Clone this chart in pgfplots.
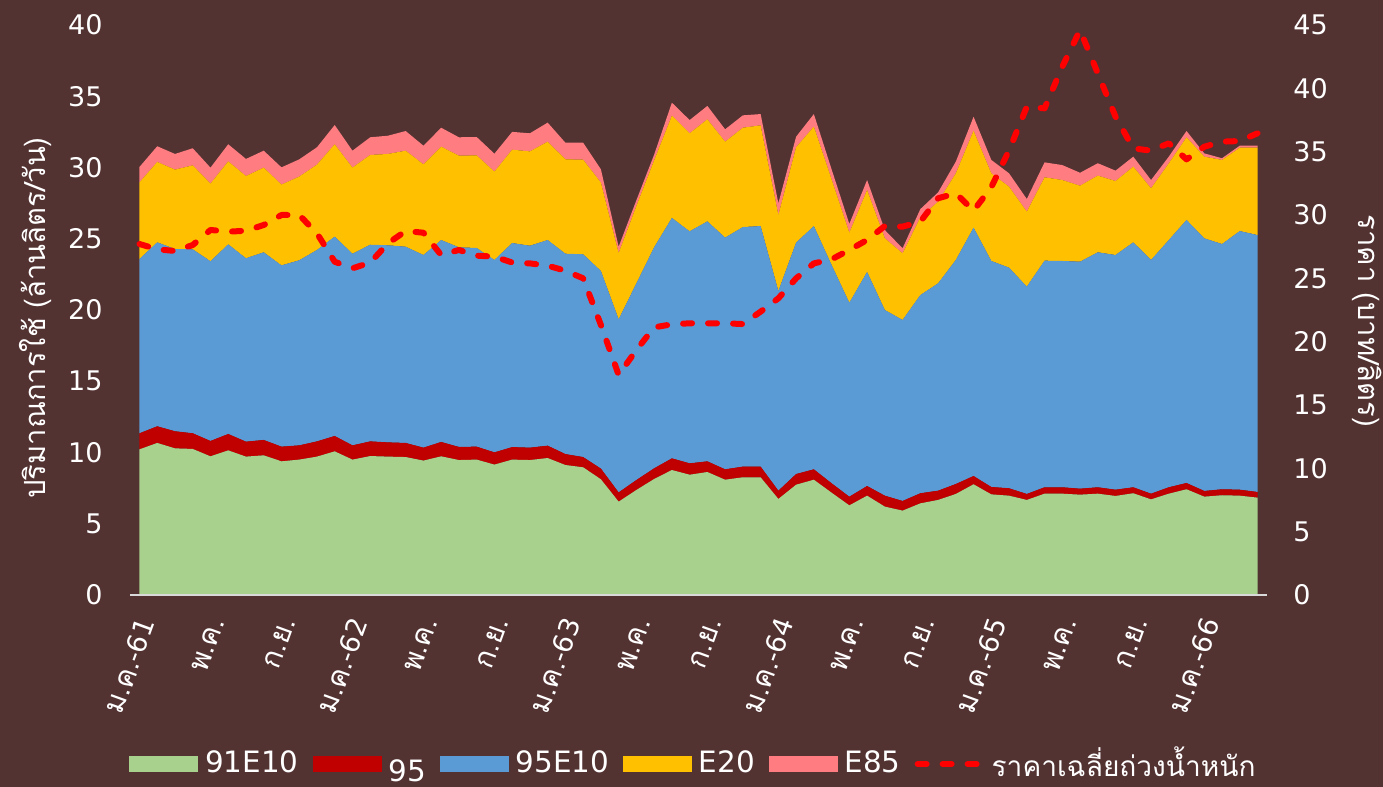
\documentclass[border=0pt]{standalone}
\usepackage{fontspec}
\setmainfont{DejaVu Sans}
\newfontfamily\thai{Loma}[Script=Thai, Scale=1.08]
\usepackage{pgfplots}
\pgfplotsset{compat=1.18}
\usepackage{pgfplotstable}
\definecolor{bg}{RGB}{83,50,50}
\definecolor{cG}{RGB}{169,209,142}
\definecolor{cR}{RGB}{192,0,0}
\definecolor{cB}{RGB}{91,155,213}
\definecolor{cY}{RGB}{255,192,0}
\definecolor{cP}{RGB}{255,124,128}
\definecolor{axgray}{RGB}{217,217,217}
\newcommand{\MJan}{{\thai ม.ค.}}
\newcommand{\MMay}{{\thai พ.ค.}}
\newcommand{\MSep}{{\thai ก.ย.}}
\pgfplotstableread{
x a b c d e p
0 10.22 1.13 12.23 5.38 1.08 27.71
1 10.67 1.17 12.91 5.64 1.10 27.29
2 10.29 1.20 12.79 5.57 1.10 27.16
3 10.25 1.10 12.91 5.89 1.20 27.63
4 9.73 1.08 12.61 5.45 1.12 28.82
5 10.15 1.15 13.31 5.82 1.20 28.68
6 9.71 1.05 12.87 5.77 1.20 28.76
7 9.80 1.08 13.17 5.94 1.19 29.21
8 9.38 1.03 12.72 5.67 1.21 30.00
9 9.50 1.00 12.99 5.87 1.21 30.00
10 9.71 1.07 13.43 5.99 1.22 28.55
11 10.08 1.08 13.99 6.48 1.35 26.31
12 9.50 1.00 13.45 6.04 1.19 25.79
13 9.75 1.03 13.80 6.30 1.24 26.24
14 9.71 1.00 13.83 6.41 1.28 27.76
15 9.68 0.99 13.77 6.74 1.38 28.74
16 9.43 0.91 13.52 6.36 1.31 28.60
17 9.73 1.01 14.17 6.55 1.33 26.84
18 9.47 0.92 14.01 6.43 1.29 27.24
19 9.50 0.91 13.94 6.50 1.29 26.79
20 9.15 0.86 13.50 6.20 1.26 26.71
21 9.50 0.88 14.32 6.55 1.25 26.25
22 9.47 0.87 14.17 6.62 1.27 26.18
23 9.61 0.87 14.43 6.90 1.34 26.00
24 9.12 0.77 14.06 6.62 1.17 25.60
25 8.96 0.72 14.23 6.64 1.19 25.00
26 8.12 0.75 13.87 6.20 0.93 21.32
27 6.55 0.65 12.15 4.65 0.44 17.37
28 7.37 0.70 13.80 5.43 0.40 19.34
29 8.14 0.75 15.51 6.10 0.40 21.13
30 8.77 0.82 16.87 7.18 0.91 21.37
31 8.44 0.80 16.28 6.88 0.93 21.45
32 8.63 0.75 16.84 7.16 0.94 21.45
33 8.09 0.73 16.26 6.73 0.87 21.45
34 8.26 0.75 16.81 6.97 0.87 21.39
35 8.26 0.75 16.88 7.07 0.79 22.37
36 6.74 0.58 14.01 5.34 0.82 23.42
37 7.74 0.75 16.24 6.69 0.74 25.00
38 8.09 0.73 17.07 6.98 0.88 26.18
39 7.18 0.66 15.32 6.01 0.70 26.50
40 6.29 0.61 13.61 4.92 0.61 27.24
41 6.97 0.68 15.02 5.75 0.70 28.03
42 6.20 0.77 13.03 5.03 0.58 29.13
43 5.92 0.68 12.70 4.68 0.35 29.08
44 6.43 0.71 13.91 5.45 0.58 29.47
45 6.67 0.65 14.55 5.73 0.65 31.32
46 7.09 0.70 15.72 6.08 0.82 31.71
47 7.77 0.58 17.43 6.80 0.98 30.34
48 7.06 0.52 15.86 6.15 0.94 32.20
49 6.97 0.52 15.48 5.68 0.94 35.10
50 6.67 0.42 14.55 5.26 0.89 38.55
51 7.11 0.45 15.90 5.85 1.05 38.42
52 7.11 0.45 15.88 5.68 1.05 41.71
53 7.04 0.42 15.93 5.33 0.91 44.60
54 7.11 0.45 16.49 5.38 0.87 41.18
55 6.95 0.44 16.47 5.19 0.73 37.76
56 7.14 0.42 17.19 5.31 0.70 35.26
57 6.71 0.40 16.40 5.03 0.58 35.08
58 7.11 0.45 17.35 5.38 0.47 35.66
59 7.42 0.44 18.46 5.80 0.44 34.39
60 6.90 0.40 17.73 5.73 0.23 35.39
61 7.00 0.42 17.21 5.90 0.12 35.79
62 6.97 0.42 18.15 5.85 0.14 35.84
63 6.83 0.40 18.03 6.13 0.14 36.45
}\data
\newcommand{\legrect}[1]{\fill[#1] (0pt,-3.75pt) rectangle (34pt,3.75pt); \path (35.5pt,0pt);}
\begin{document}
\fontsize{13.5pt}{16pt}\selectfont
\begin{tikzpicture}
\fill[bg] (-65pt,-96pt) rectangle (626.5pt,297.5pt);
\path[use as bounding box] (-65pt,-96pt) rectangle (626.5pt,297.5pt);
\begin{axis}[
  at={(0,0)}, anchor=south west, scale only axis,
  width=568.5pt, height=285pt,
  xmin=-0.535, xmax=63.535, ymin=0, ymax=40,
  ytick={0,5,...,40},
  xtick={0,4,...,60},
  xticklabels={\MJan-61,\MMay,\MSep,\MJan-62,\MMay,\MSep,\MJan-63,\MMay,\MSep,\MJan-64,\MMay,\MSep,\MJan-65,\MMay,\MSep,\MJan-66},
  axis x line*=bottom, axis y line*=left,
  y axis line style={draw=none},
  x axis line style={draw=axgray, line width=0.9pt},
  major tick length=0pt,
  /pgf/number format/assume math mode=true,
  yticklabel style={anchor=east, inner sep=0pt, xshift=-13.5pt, text=white},
  xticklabel style={xshift=3.5pt, yshift=-12pt, rotate=70, anchor=east, inner sep=0pt, text=white},
  every axis y label/.style={at={(axis description cs:-0.0827,0.486)}, anchor=center, rotate=90, text=white},
  ylabel={\thai ปริมาณการใช้ (ล้านลิตร/วัน)},
  stack plots=y, no markers,
  axis on top,
]
\addplot[fill=cG, draw=none] table[x=x,y=a]{\data} \closedcycle;
\addplot[fill=cR, draw=none] table[x=x,y=b]{\data} \closedcycle;
\addplot[fill=cB, draw=none] table[x=x,y=c]{\data} \closedcycle;
\addplot[fill=cY, draw=none] table[x=x,y=d]{\data} \closedcycle;
\addplot[fill=cP, draw=none] table[x=x,y=e]{\data} \closedcycle;
\end{axis}
\begin{axis}[
  at={(0,0)}, anchor=south west, scale only axis,
  width=568.5pt, height=285pt,
  xmin=-0.535, xmax=63.535, ymin=0, ymax=45,
  ytick={0,5,...,45},
  axis y line*=right, axis x line=none,
  y axis line style={draw=none},
  major tick length=0pt,
  /pgf/number format/assume math mode=true,
  yticklabel style={anchor=west, inner sep=0pt, xshift=13pt, text=white},
  every axis y label/.style={at={(axis description cs:1.088,0.481)}, anchor=center, rotate=-90, text=white},
  ylabel={\thai ราคา (บาท/ลิตร)},
  legend columns=6,
  legend style={at={(axis description cs:0.4965,-0.2965)}, anchor=center, draw=none, fill=none,
    font=\fontsize{14.7pt}{17pt}\selectfont,
    nodes={text=white}, /tikz/every even column/.append style={column sep=5pt}},
]
\addlegendimage{legend image code/.code={\legrect{cG}}}
\addlegendentry{91E10}
\addlegendimage{legend image code/.code={\legrect{cR}}}
\addlegendentry{\raisebox{-8.5pt}{95}}
\addlegendimage{legend image code/.code={\legrect{cB}}}
\addlegendentry{95E10}
\addlegendimage{legend image code/.code={\legrect{cY}}}
\addlegendentry{E20}
\addlegendimage{legend image code/.code={\legrect{cP}}}
\addlegendentry{E85}
\addplot[color=red, line width=3pt, dash pattern=on 4.5pt off 8pt, line cap=round, line join=round,
  legend image code/.code={\draw[red, line width=3pt, dash pattern=on 4.5pt off 8pt, line cap=round] (2pt,0pt) -- (34pt,0pt); \path (35.5pt,0pt);}]
  table[x=x,y=p]{\data};
\addlegendentry{{\fontsize{13pt}{16pt}\selectfont\thai ราคาเฉลี่ยถ่วงน้ำหนัก}}
\end{axis}
\end{tikzpicture}
\end{document}
